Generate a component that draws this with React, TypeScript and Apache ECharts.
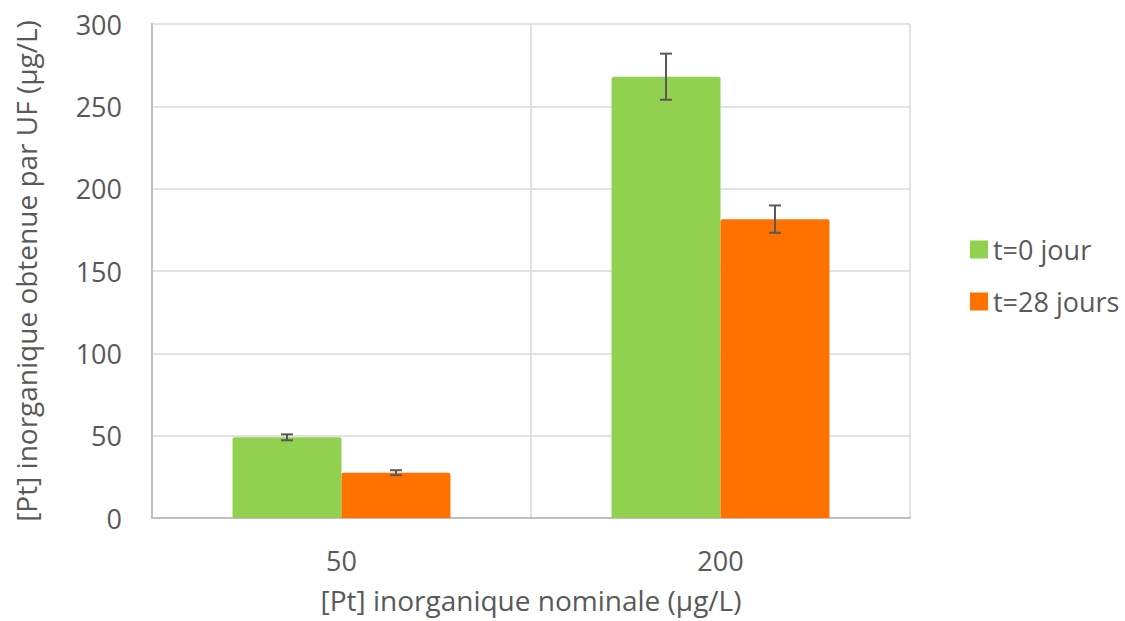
import React, { useEffect, useRef } from "react";
import * as echarts from "echarts";

const categories = ["50", "200"];
const seriesNames = ["t=0 jour", "t=28 jours"];
const t0Values = [49, 268];
const t28Values = [27.5, 181.5];
const t0Errors = [1.8, 14];
const t28Errors = [1.5, 8.3];
const yTicks = [0, 50, 100, 150, 200, 250, 300];

const GREEN = "#92D050";
const ORANGE = "#FF7200";
const TEXT = "#595959";
const FONT = "Open Sans";
const CAT_GAP = 0.425;

function errorSeries(name: string, values: number[], errors: number[], side: number) {
  return {
    type: "custom",
    name: name + " err",
    z: 10,
    silent: true,
    data: values.map((v, i) => [i, v, errors[i]]),
    renderItem: (params: any, api: any) => {
      const idx = api.value(0);
      const v = api.value(1);
      const e = api.value(2);
      const band = api.size([1, 0])[0];
      const bw = (band * (1 - CAT_GAP)) / 2;
      const c = api.coord([idx, v]);
      const x = c[0] + (side * bw) / 2;
      const top = api.coord([idx, v + e])[1];
      const bot = api.coord([idx, v - e])[1];
      const cap = 6;
      const style = { stroke: TEXT, lineWidth: 2, fill: "none" };
      return {
        type: "group",
        children: [
          { type: "line", shape: { x1: x, y1: top, x2: x, y2: bot }, style },
          { type: "line", shape: { x1: x - cap, y1: top, x2: x + cap, y2: top }, style },
          { type: "line", shape: { x1: x - cap, y1: bot, x2: x + cap, y2: bot }, style },
        ],
      };
    },
  };
}

export default function App() {
  const ref = useRef<HTMLDivElement>(null);
  useEffect(() => {
    const chart = echarts.init(ref.current!, null, { renderer: "svg" });
    chart.setOption({
      animation: false,
      backgroundColor: "#ffffff",
      textStyle: { fontFamily: FONT },
      grid: { left: 152, right: 215, top: 24, bottom: 103, containLabel: false },
      legend: {
        orient: "vertical",
        left: 965,
        top: 231,
        icon: "rect",
        itemWidth: 18,
        itemHeight: 18,
        itemGap: 25,
        data: seriesNames,
        textStyle: { color: TEXT, fontSize: 27, fontFamily: FONT },
      },
      xAxis: {
        type: "category",
        data: categories,
        axisLine: { show: true, lineStyle: { color: "#BFBFBF", width: 2 } },
        axisTick: { show: false },
        splitLine: { show: true, lineStyle: { color: "#D9D9D9", width: 1.5 } },
        axisLabel: { color: TEXT, fontSize: 27, fontFamily: FONT, margin: 29 },
        name: "[Pt] inorganique nominale (µg/L)",
        nameLocation: "middle",
        nameGap: 68,
        nameTextStyle: { color: TEXT, fontSize: 28, fontFamily: FONT },
      },
      yAxis: {
        type: "value",
        min: 0,
        max: 300,
        interval: 50,
        axisLine: { show: true, lineStyle: { color: "#BFBFBF", width: 2 } },
        axisTick: { show: false },
        splitLine: { show: true, lineStyle: { color: "#D9D9D9", width: 1.5 } },
        axisLabel: {
          color: TEXT,
          fontSize: 27,
          fontFamily: FONT,
          margin: 30,
          formatter: (v: number) => (yTicks.includes(v) ? String(v) : ""),
        },
        name: "[Pt] inorganique obtenue par UF (µg/L)",
        nameLocation: "middle",
        nameGap: 112,
        nameTextStyle: { color: TEXT, fontSize: 28, fontFamily: FONT },
      },
      series: [
        {
          type: "bar",
          name: seriesNames[0],
          data: t0Values,
          itemStyle: { color: GREEN, borderRadius: [2, 2, 0, 0] },
          barGap: "0%",
          barCategoryGap: "42.5%",
        },
        {
          type: "bar",
          name: seriesNames[1],
          data: t28Values,
          itemStyle: { color: ORANGE, borderRadius: [2, 2, 0, 0] },
          barGap: "0%",
          barCategoryGap: "42.5%",
        },
        errorSeries(seriesNames[0], t0Values, t0Errors, -1),
        errorSeries(seriesNames[1], t28Values, t28Errors, 1),
      ],
    });
    return () => chart.dispose();
  }, []);
  return (
    <div
      ref={ref}
      style={{ position: "absolute", left: 0, top: 0, width: 1125, height: 621 }}
    />
  );
}
